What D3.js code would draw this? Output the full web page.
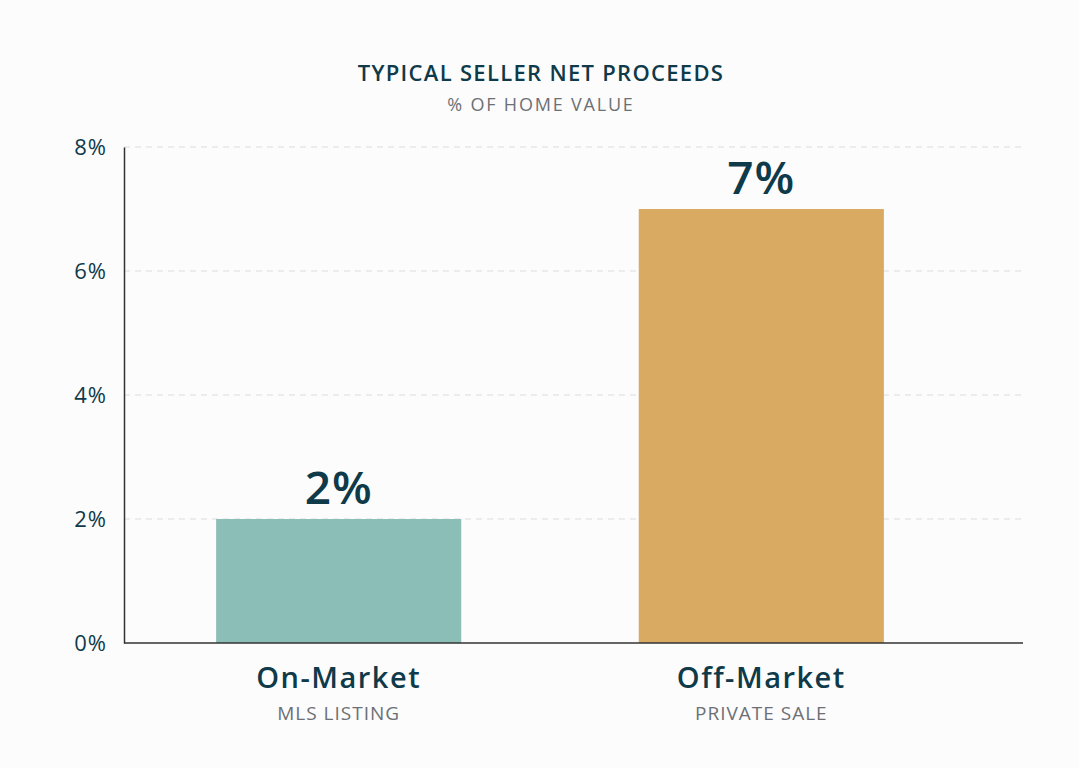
<!DOCTYPE html>
<html>
<head>
<meta charset="utf-8">
<script src="https://cdn.jsdelivr.net/npm/d3@7"></script>
<style>
  html, body { margin: 0; padding: 0; background: #fcfcfc; }
  svg { display: block; font-family: "Open Sans", "Noto Sans", sans-serif; }
</style>
</head>
<body>
<div id="chart"></div>
<script>
/* DATA */
const categories = ["On-Market", "Off-Market"];
const subLabels = ["MLS LISTING", "PRIVATE SALE"];
const values = [2, 7];
const yTicks = [0, 2, 4, 6, 8];

/* CONSTANTS */
const width = 1079,
  height = 768,
  margin = { top: 147, bottom: 125, left: 124, right: 56 };

const colors = ["#8bbeb6", "#d9aa61"];
const dark = "#0e3a49";
const grey = "#6c7075";

const svg = d3.select("#chart")
  .append("svg")
  .attr("width", width)
  .attr("height", height);

// scales
const yScale = d3.scaleLinear()
  .domain([0, 8])
  .range([height - margin.bottom, margin.top]);

const xScale = d3.scaleBand()
  .domain(categories)
  .range([margin.left, 976])
  .paddingInner(0.42)
  .paddingOuter(0.218);

// gridlines
svg.append("g")
  .selectAll("line")
  .data(yTicks.filter(d => d > 0))
  .join("line")
  .attr("x1", margin.left)
  .attr("x2", width - margin.right)
  .attr("y1", d => yScale(d))
  .attr("y2", d => yScale(d))
  .attr("stroke", "#dcdcdc")
  .attr("stroke-width", 1)
  .attr("stroke-dasharray", "6,5");

// bars
svg.append("g")
  .selectAll("rect")
  .data(values)
  .join("rect")
  .attr("x", (d, i) => xScale(categories[i]))
  .attr("y", d => yScale(d))
  .attr("width", xScale.bandwidth())
  .attr("height", d => yScale(0) - yScale(d))
  .attr("fill", (d, i) => colors[i]);

// value labels
svg.append("g")
  .selectAll("text")
  .data(values)
  .join("text")
  .attr("x", (d, i) => xScale(categories[i]) + xScale.bandwidth() / 2)
  .attr("y", d => yScale(d) - 15)
  .attr("text-anchor", "middle")
  .attr("fill", dark)
  .attr("font-size", 46)
  .attr("font-weight", 600)
  .attr("letter-spacing", 1)
  .text(d => d + "%");

// y axis
const yAxis = d3.axisLeft(yScale)
  .tickValues(yTicks)
  .tickSize(0)
  .tickPadding(17)
  .tickFormat(d => d + "%");

svg.append("g")
  .attr("class", "axis y-axis")
  .attr("transform", `translate(${margin.left},0)`)
  .call(yAxis)
  .call(g => g.select(".domain").attr("stroke", "#333").attr("stroke-width", 1.5))
  .call(g => g.selectAll("text")
    .attr("fill", dark)
    .attr("font-size", 22)
    .attr("letter-spacing", 1)
    .attr("font-family", "'Open Sans', sans-serif"));

// x axis baseline
svg.append("line")
  .attr("x1", margin.left)
  .attr("x2", width - margin.right)
  .attr("y1", yScale(0))
  .attr("y2", yScale(0))
  .attr("stroke", "#333")
  .attr("stroke-width", 1.5);

// category labels
const catG = svg.append("g")
  .selectAll("g")
  .data(categories)
  .join("g")
  .attr("transform", d => `translate(${xScale(d) + xScale.bandwidth() / 2},0)`);

catG.append("text")
  .attr("y", 688)
  .attr("text-anchor", "middle")
  .attr("fill", dark)
  .attr("font-size", 29)
  .attr("font-weight", 600)
  .attr("letter-spacing", 1.5)
  .text(d => d);

catG.append("text")
  .attr("y", 720)
  .attr("text-anchor", "middle")
  .attr("fill", grey)
  .attr("font-size", 19)
  .attr("letter-spacing", 1)
  .text((d, i) => subLabels[i]);

// titles
svg.append("text")
  .attr("x", 541)
  .attr("y", 81)
  .attr("text-anchor", "middle")
  .attr("fill", dark)
  .attr("font-size", 22)
  .attr("font-weight", 600)
  .attr("letter-spacing", 1.3)
  .text("TYPICAL SELLER NET PROCEEDS");

svg.append("text")
  .attr("x", 541)
  .attr("y", 111)
  .attr("text-anchor", "middle")
  .attr("fill", grey)
  .attr("font-size", 18)
  .attr("letter-spacing", 1.8)
  .text("% OF HOME VALUE");
</script>
</body>
</html>
